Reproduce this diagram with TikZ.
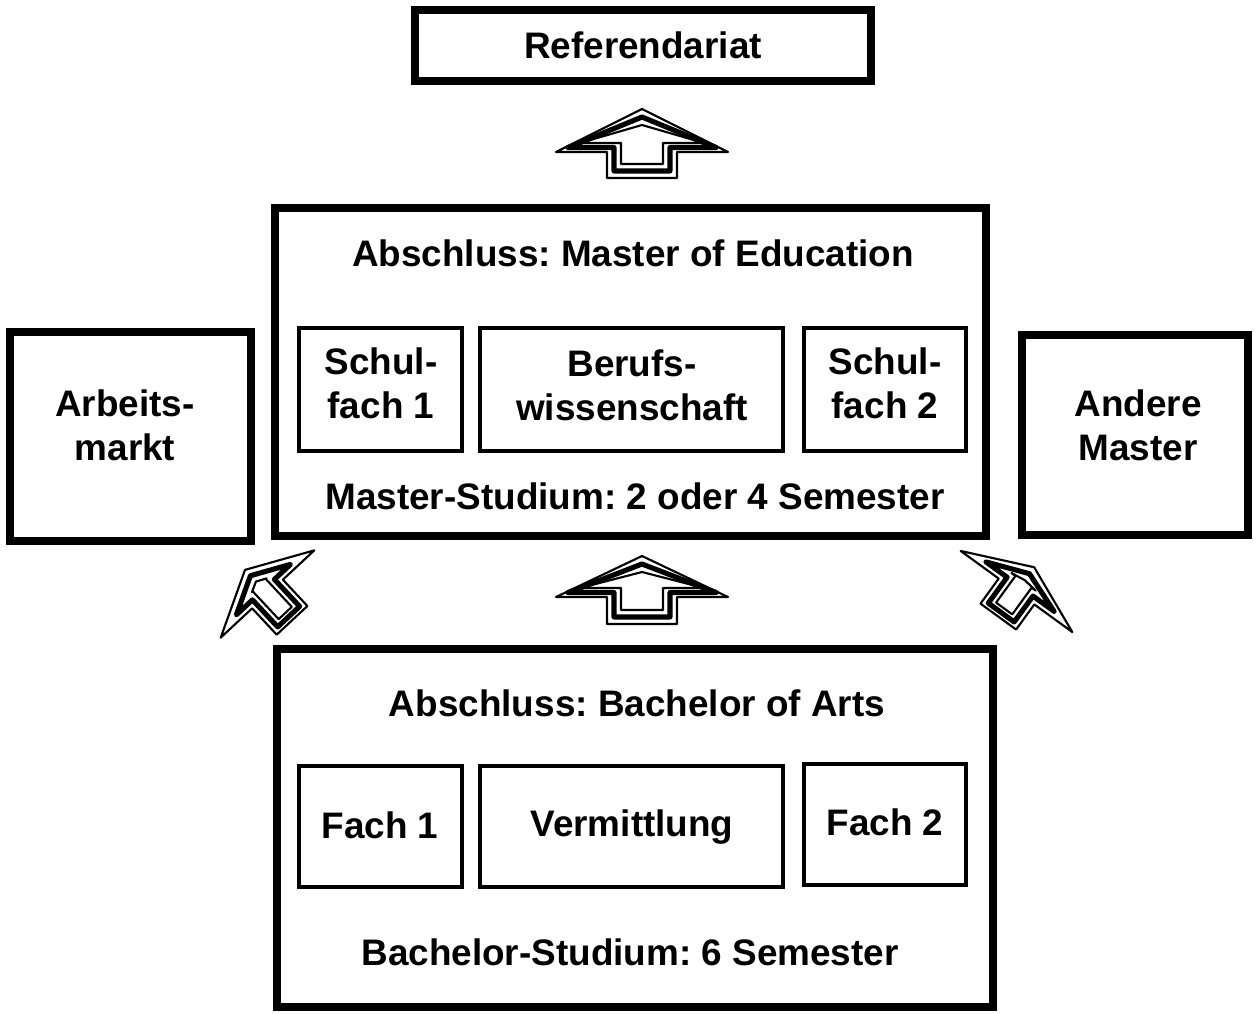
\documentclass[tikz,border=0pt]{standalone}
\usepackage{fontspec}
\setmainfont{Liberation Sans}
\frenchspacing

\tikzset{
% insets of the nested outlines
hollow shaft/.store in=\ashaft, hollow shaft=7,
hollow base/.store in=\abase, hollow base=4.5,
hollow foot/.store in=\afoot, hollow foot=7,
hollow corner/.store in=\acorner, hollow corner=12,
% hollow block arrow, three nested outlines
pics/hollowarrow/.style n args={4}{code={
  \foreach \t/\lw in {0/1.2pt,1/2.9pt,2/1.2pt}
    \draw[line width=\lw, line join=round] (0,{-#2+8*\t}) -- ({#1-\acorner*\t},{-\abase*\t})
      -- ({#3-\ashaft*\t},{-\abase*\t}) -- ({#3-\ashaft*\t},{#4-\afoot*\t})
      -- ({-#3+\ashaft*\t},{#4-\afoot*\t}) -- ({-#3+\ashaft*\t},{-\abase*\t})
      -- ({-#1+\acorner*\t},{-\abase*\t}) -- cycle;
}}}

\begin{document}
\begin{tikzpicture}[x=0.02cm, y=-0.02cm,
% common options for the big frames:
frame/.style = {draw, line width=4.5pt, inner sep=0},
% common options for the subject boxes:
subbox/.style = {draw, line width=2.3pt, inner sep=0},
% common options for the texts:
txt/.style = {align=center, inner sep=0, font=\bfseries\fontsize{21}{25}\selectfont},
% the two slanted arrows:
slanted/.style = {hollow shaft=6, hollow base=6, hollow foot=5, hollow corner=27}]
\useasboundingbox (0,0) rectangle (1256,1013);
% top
\node[frame,minimum width=456*0.02cm,minimum height=71*0.02cm,txt] (ref) at (643,45.5) {Referendariat};
% master
\node[frame,minimum width=711*0.02cm,minimum height=328*0.02cm] (master) at (630.5,372) {};
\node[txt] (masterTitle) at (633,253) {Abschluss: Master of Education};
\node[subbox,minimum width=163*0.02cm,minimum height=123*0.02cm] (schulA) at (380.5,389.5) {};
\node[subbox,minimum width=303*0.02cm,minimum height=123*0.02cm] (beruf) at (631.5,389.5) {};
\node[subbox,minimum width=162*0.02cm,minimum height=123*0.02cm] (schulB) at (885,389.5) {};
\node[txt] (schulAText) at (381,383) {Schul-\\fach 1};
\node[txt] (berufText) at (632,385) {Berufs-\\wissenschaft};
\node[txt] (schulBText) at (885,383) {Schul-\\fach 2};
\node[txt] (masterSub) at (635,496) {Master-Studium: 2 oder 4 Semester};
% sides
\node[frame,minimum width=241*0.02cm,minimum height=209*0.02cm] (arbeit) at (130.5,436.5) {};
\node[txt] (arbeitText) at (125,425) {Arbeits-\\markt};
\node[frame,minimum width=226*0.02cm,minimum height=200*0.02cm] (andere) at (1135,435) {};
\node[txt] (andereText) at (1138,425) {Andere\\Master};
% bachelor
\node[frame,minimum width=716*0.02cm,minimum height=358*0.02cm] (bachelor) at (635,828) {};
\node[txt] (bachelorTitle) at (637,703) {Abschluss: Bachelor of Arts};
\node[subbox,minimum width=163*0.02cm,minimum height=121*0.02cm] (fachA) at (380.5,826.5) {};
\node[subbox,minimum width=303*0.02cm,minimum height=121*0.02cm] (verm) at (631.5,826.5) {};
\node[subbox,minimum width=162*0.02cm,minimum height=121*0.02cm] (fachB) at (885,824.5) {};
\node[txt] (fachAText) at (380,825) {Fach 1};
\node[txt] (vermText) at (632,827) {Vermittlung};
\node[txt] (fachBText) at (885,822) {Fach 2};
\node[txt] (bachelorSub) at (630,952) {Bachelor-Studium: 6 Semester};
% arrows
\pic at (642,152) {hollowarrow={86}{43}{35}{26}};
\pic at (642,597) {hollowarrow={86}{41}{35}{27}};
\pic[rotate=43,slanted] at (267.5,594) {hollowarrow={64}{33}{21}{36}};
\pic[rotate=-36,slanted] at (1016.5,591.5) {hollowarrow={69}{30}{22}{31}};
\end{tikzpicture}
\end{document}
